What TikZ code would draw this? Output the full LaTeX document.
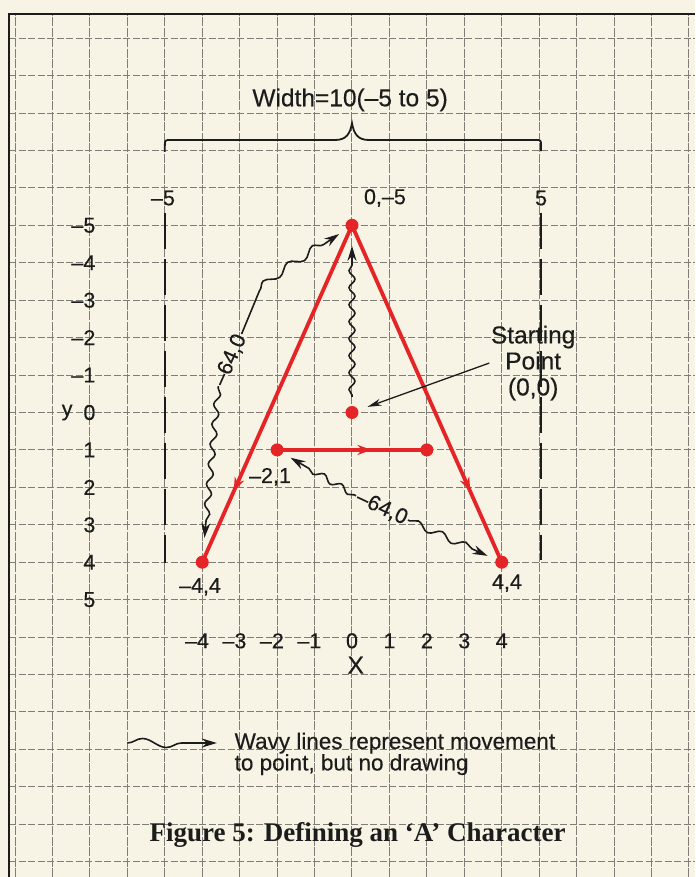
\documentclass[tikz,border=0pt]{standalone}
\usepackage{fontspec}
\setmainfont{Liberation Sans}[FakeBold=0.35]
\newfontfamily\capfont{Liberation Serif}
\usetikzlibrary{arrows.meta,decorations.pathmorphing,decorations.markings,calc}
\definecolor{paper}{RGB}{248,244,229}
\definecolor{gridc}{RGB}{128,125,118}
\definecolor{ared}{RGB}{228,36,38}
\definecolor{ink}{RGB}{28,28,28}
\begin{document}
\begin{tikzpicture}[x=37.43pt,y=37.43pt,
  every node/.style={font=\fontsize{21.5}{23}\selectfont, text=ink, inner sep=1.5pt},
  gridv/.style={draw=gridc, line width=1pt, dash pattern=on 9pt off 1.5pt},
  gridh/.style={draw=gridc, line width=1pt, dash pattern=on 7pt off 2.5pt},
  frameline/.style={draw=ink, line width=2pt},
  bracedash/.style={draw=ink, line width=2pt, dash pattern=on 36pt off 10pt},
  reddot/.style={circle, fill=ared, inner sep=0pt, minimum size=13pt, outer sep=9pt},
  redline/.style={draw=ared, line width=3.8pt, line cap=round},
  midarrow/.style={postaction={decorate, decoration={markings, mark=at position #1 with {\arrow{Stealth[color=ared,length=14pt,width=10pt]}}}}},
  wavy/.style={draw=ink, line width=1.6pt, decorate,
    decoration={snake, amplitude=3pt, segment length=17pt, pre length=2pt, post length=16pt},
    -{Stealth[length=15pt,width=9pt]}},
  pointer/.style={draw=ink, line width=1.3pt, -{Stealth[length=14pt,width=7pt]}},
  biglabel/.style={font=\fontsize{24.5}{26}\selectfont},
]
% paper and bounding box
\fill[paper] (-9.404,-12.41) rectangle (9.164,11.02);
\useasboundingbox (-9.404,-12.41) rectangle (9.164,11.02);
% grid
\foreach \x in {-9,...,9} \draw[gridv] (\x,-12.41) -- (\x,10.65);
\foreach \y in {-12,...,10} \draw[gridh] (-9.16,\y) -- (9.164,\y);
% frame
\draw[frameline] (-9.16,-12.41) -- (-9.16,10.65) -- (9.164,10.65);

% width brace
\node[biglabel] (wd) at (-0.05,8.35) {Width=10(–5 to 5)};
\draw[draw=ink, line width=1.8pt]
  (-5,6.96) -- (-5,7.12) .. controls (-5,7.28) .. (-4.84,7.28) -- (-0.45,7.28)
  .. controls (-0.15,7.28) and (-0.05,7.45) .. (0,7.73)
  .. controls (0.05,7.45) and (0.15,7.28) .. (0.45,7.28) -- (4.89,7.28)
  .. controls (5.05,7.28) .. (5.05,7.12) -- (5.05,6.98);
\node (tm5) at (-5.05,5.73) {–5};
\node (tp5) at (5.05,5.73) {5};
\draw[bracedash] (-5,5.33) -- (-5,-4.02);
\draw[bracedash] (5.05,5.33) -- (5.05,-3.94);

% axis labels
\foreach \t [count=\i] in {–5,–4,–3,–2,–1,0,1,2,3,4,5}
  \node[anchor=east] (ylab\i) at (-6.81,{6-\i}) {\t};
\node (ylet) at (-7.61,0) {y};
\foreach \t/\x [count=\i] in {–4/-4,–3/-3,–2/-2,–1/-1,0/0,1/1,2/2,3/3,4/4}
  \node (xlab\i) at ({\x<0 ? \x-0.14 : \x},-6.10) {\t};
\node[biglabel] (xlet) at (0.1,-6.75) {X};

% points
\node[reddot] (P0) at (0,5) {};
\node[reddot] (S) at (0,0) {};
\node[reddot] (M1) at (-2,-1) {};
\node[reddot] (M2) at (2,-1) {};
\node[reddot] (L) at (-4,-4) {};
\node[reddot] (R) at (4,-4) {};
\draw[redline, midarrow=0.79] (P0.center) -- (L.center);
\draw[redline, midarrow=0.79] (P0.center) -- (R.center);
\draw[redline, midarrow=0.63] (M1.center) -- (M2.center);

% point labels
\node (lP0) at (0.88,5.73) {0,–5};
\node (lL) at (-4.06,-4.66) {–4,4};
\node (lR) at (4.14,-4.56) {4,4};
\node (lM1) at (-2.19,-1.72) {–2,1};

% wavy moves
\draw[wavy, shorten >=5pt, decoration={post length=24pt}] (S) -- (P0);
\node[rotate=66] (LA) at (-3.26,1.40) {–64,0};
\coordinate (LAbend) at (-2.0,3.65);
\draw[wavy, decoration={pre length=48pt, segment length=30pt, amplitude=4pt, post length=18pt}]
  (LA.east) to[out=88,in=215] (LAbend) -- (P0);
\draw[wavy, shorten >=9pt, decoration={post length=26pt, segment length=20pt}] (LA.west) -- (L);
\node[rotate=-25] (LB) at (0.80,-2.55) {–64,0};
\draw[wavy, decoration={segment length=20pt}] (LB.west) -- (M1);
\draw[wavy, decoration={segment length=26pt, amplitude=3.5pt}] (LB.east) -- (R);

% starting point
\node[biglabel, align=center] (SP) at (4.84,1.32) {Starting\\Point\\(0,0)};
\draw[pointer, shorten >=1pt] (SP.west) -- (S);

% legend
\coordinate (lgA) at (-6.00,-8.83);
\coordinate (lgB) at (-3.61,-8.83);
\draw[wavy, decoration={amplitude=4.5pt, segment length=48pt, pre length=0pt, post length=31pt}] (lgA) -- (lgB);
\node[anchor=west, align=left, font=\fontsize{22.5}{21.5}\selectfont] (lgT) at (-3.18,-9.12)
  {Wavy lines represent movement\\to point, but no drawing};

% caption
\node[font=\capfont\bfseries\fontsize{27}{30}\selectfont] (cap) at (0.15,-11.29)
  {Figure 5: Defining an ‘A’ Character};
\end{tikzpicture}
\end{document}
